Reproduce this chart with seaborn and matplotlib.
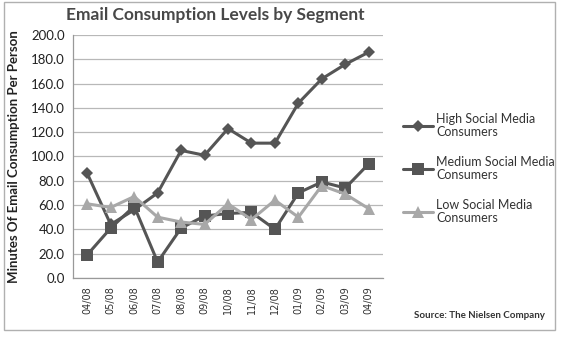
import matplotlib
matplotlib.use("Agg")
import matplotlib.pyplot as plt
import matplotlib.patches as mpatches
import seaborn as sns
import pandas as pd

months = ["04/08", "05/08", "06/08", "07/08", "08/08", "09/08", "10/08",
          "11/08", "12/08", "01/09", "02/09", "03/09", "04/09"]
high = [86, 44, 56, 70, 105, 101, 123, 111, 111, 144, 164, 176, 186]
medium = [19, 41, 59, 13, 41, 51, 53, 54, 40, 70, 79, 74, 94]
low = [61, 58, 67, 50, 46, 44, 61, 48, 64, 50, 76, 69, 57]
series_names = ["High Social Media\nConsumers",
                "Medium Social Media\nConsumers",
                "Low Social Media\nConsumers"]
y_ticks = [0, 20, 40, 60, 80, 100, 120, 140, 160, 180, 200]

df = pd.DataFrame({"month": months, series_names[0]: high,
                   series_names[1]: medium, series_names[2]: low})
long = df.melt(id_vars="month", var_name="segment", value_name="minutes")
long["pos"] = long["month"].map({m: i for i, m in enumerate(months)})

sns.set_theme(style="white")
plt.rcParams["font.family"] = ["Lato", "DejaVu Sans"]

fig = plt.figure(figsize=(5.63, 3.38), dpi=100)
ax = fig.add_axes([0.130, 0.178, 0.550, 0.718])

palette = {series_names[0]: "#555555", series_names[1]: "#555555",
           series_names[2]: "#a8a8a8"}
markers = {series_names[0]: "D", series_names[1]: "s", series_names[2]: "^"}
sizes_m = {series_names[0]: 6, series_names[1]: 8.5, series_names[2]: 8}

for name in series_names:
    sub = long[long["segment"] == name]
    sns.lineplot(data=sub, x="pos", y="minutes", ax=ax, color=palette[name],
                 marker=markers[name], markersize=sizes_m[name],
                 markeredgewidth=0, linewidth=2.2, label=name, zorder=3)

ax.set_xlim(-0.6, 12.6)
ax.set_ylim(0, 200)
ax.set_yticks(y_ticks)
ax.set_yticklabels([f"{v:.1f}" for v in y_ticks], fontsize=9.5, color="#222222")
ax.set_xticks(range(len(months)))
ax.set_xticklabels(months, rotation=90, fontsize=7, color="#333333",
                   family=["DejaVu Sans"])
ax.tick_params(axis="both", length=0, pad=6)
ax.yaxis.grid(True, color="#b8b8b8", linewidth=0.9)
ax.set_axisbelow(True)
for s in ["top", "right"]:
    ax.spines[s].set_visible(False)
for s in ["left", "bottom"]:
    ax.spines[s].set_color("#999999")
    ax.spines[s].set_linewidth(0.9)
ax.set_xlabel("")
ax.set_ylabel("Minutes Of Email Consumption Per Person", fontsize=9.5,
              fontweight="bold", color="#222222", labelpad=8)

leg = ax.legend(loc="center left", bbox_to_anchor=(1.03, 0.45), frameon=False,
                fontsize=9, handlelength=2.4, labelspacing=1.45,
                handletextpad=0.2)
for t in leg.get_texts():
    t.set_color("#333333")
    t.set_linespacing(1.1)

fig.text(0.383, 0.955, "Email Consumption Levels by Segment", ha="center",
         va="center", fontsize=12.5, fontweight="bold", color="#484848")
fig.text(0.968, 0.068, "Source: The Nielsen Company", ha="right", va="center",
         fontsize=7, fontweight="bold", color="#333333")

border = mpatches.Rectangle((4 / 563, 1 - 330 / 338), 551 / 563, 328 / 338,
                            transform=fig.transFigure, fill=False,
                            edgecolor="#b0b0b0", linewidth=1)
fig.patches.append(border)

fig.savefig("out.png", dpi=100)
